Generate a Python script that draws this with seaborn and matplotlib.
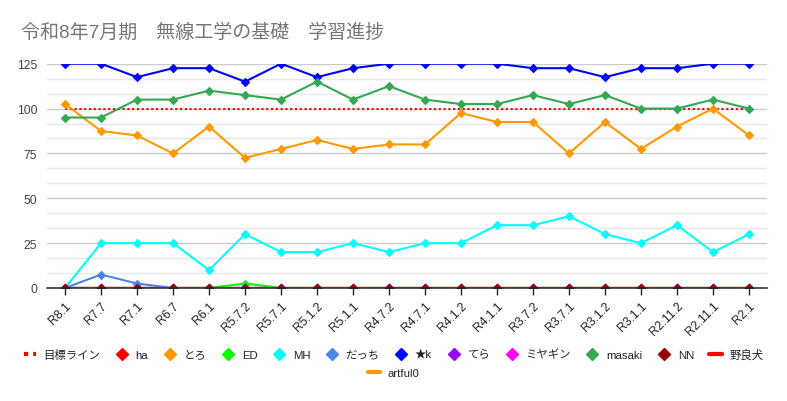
import numpy as np
import pandas as pd
import matplotlib
matplotlib.use("Agg")
import matplotlib.pyplot as plt
import seaborn as sns
from matplotlib.lines import Line2D
from matplotlib.ticker import MultipleLocator

# ---------------- data ----------------
categories = ["R8.1", "R7.7", "R7.1", "R6.7", "R6.1", "R5.7.2", "R5.7.1", "R5.1.2",
              "R5.1.1", "R4.7.2", "R4.7.1", "R4.1.2", "R4.1.1", "R3.7.2", "R3.7.1",
              "R3.1.2", "R3.1.1", "R2.11.2", "R2.11.1", "R2.1"]

target_line = [100, 100, 100, 100, 100, 100, 100, 100, 100, 100,
               100, 100, 100, 100, 100, 100, 100, 100, 100, 100]
ha = [0, 0, 0, 0, 0, 0, 0, 0, 0, 0, 0, 0, 0, 0, 0, 0, 0, 0, 0, 0]
toro = [102.5, 87.5, 85, 75, 90, 72.5, 77.5, 82.5, 77.5, 80,
        80, 97.5, 92.5, 92.5, 75, 92.5, 77.5, 90, 100, 85]
ed = [0, 0, 0, 0, 0, 2.5, 0, 0, 0, 0, 0, 0, 0, 0, 0, 0, 0, 0, 0, 0]
mh = [0, 25, 25, 25, 10, 30, 20, 20, 25, 20,
      25, 25, 35, 35, 40, 30, 25, 35, 20, 30]
datchi = [0, 7.5, 2.5, 0, 0, 0, 0, 0, 0, 0, 0, 0, 0, 0, 0, 0, 0, 0, 0, 0]
star_k = [125, 125, 117.5, 122.5, 122.5, 115, 125, 117.5, 122.5, 125,
          125, 125, 125, 122.5, 122.5, 117.5, 122.5, 122.5, 125, 125]
tera = [0, 0, 0, 0, 0, 0, 0, 0, 0, 0, 0, 0, 0, 0, 0, 0, 0, 0, 0, 0]
miyagin = [0, 0, 0, 0, 0, 0, 0, 0, 0, 0, 0, 0, 0, 0, 0, 0, 0, 0, 0, 0]
masaki = [95, 95, 105, 105, 110, 107.5, 105, 115, 105, 112.5,
          105, 102.5, 102.5, 107.5, 102.5, 107.5, 100, 100, 105, 100]
nn = [0, 0, 0, 0, 0, 0, 0, 0, 0, 0, 0, 0, 0, 0, 0, 0, 0, 0, 0, 0]
norainu = [0, 0, 0, 0, 0, 0, 0, 0, 0, 0, 0, 0, 0, 0, 0, 0, 0, 0, 0, 0]
artful0 = [0, 0, 0, 0, 0, 0, 0, 0, 0, 0, 0, 0, 0, 0, 0, 0, 0, 0, 0, 0]

title = "令和8年7月期　無線工学の基礎　学習進捗"
y_ticks = [0, 25, 50, 75, 100, 125]

# (name, values, color, kind)
series = [
    ("目標ライン", target_line, "#ff0000", "dotted"),
    ("ha", ha, "#ff0000", "marker"),
    ("とろ", toro, "#ff9900", "marker"),
    ("ED", ed, "#00ff00", "marker"),
    ("MH", mh, "#00ffff", "marker"),
    ("だっち", datchi, "#4a86e8", "marker"),
    ("★k", star_k, "#0000ff", "marker"),
    ("てら", tera, "#9900ff", "marker"),
    ("ミヤギン", miyagin, "#ff00ff", "marker"),
    ("masaki", masaki, "#34a853", "marker"),
    ("NN", nn, "#980000", "marker"),
    ("野良犬", norainu, "#ff0000", "line"),
    ("artful0", artful0, "#ff9900", "line"),
]

# ---------------- style ----------------
sns.set_theme(style="white")
plt.rcParams["font.family"] = ["Liberation Sans", "Noto Sans CJK JP", "DejaVu Sans"]

fig = plt.figure(figsize=(7.87, 4.02), dpi=100)
ax = fig.add_axes([47 / 787, 1 - 289 / 402, 720 / 787, (289 - 64.7) / 402])

xpos = np.arange(len(categories))

for i, (name, vals, color, kind) in enumerate(series):
    df = pd.DataFrame({"x": xpos, "y": vals})
    if kind == "dotted":
        sns.lineplot(data=df, x="x", y="y", ax=ax, color=color, lw=1.5,
                     linestyle=(0, (1, 1.3)), zorder=2, legend=False)
    else:
        sns.lineplot(data=df, x="x", y="y", ax=ax, color=color, lw=1.5,
                     zorder=2 + i * 0.01, legend=False)
    if kind == "marker":
        sns.scatterplot(data=df, x="x", y="y", ax=ax, color=color, marker="D",
                        s=24, linewidth=0, zorder=3 + i * 0.01, legend=False)

ax.set_xlim(-0.5, len(categories) - 0.5)
ax.set_ylim(0, 125)
ax.set_xticks(xpos)
ax.set_xticklabels(categories, rotation=45, ha="right", rotation_mode="anchor",
                   fontsize=8.8, color="#222222")
ax.set_yticks(y_ticks)
ax.set_yticklabels([str(t) for t in y_ticks], fontsize=8.8, color="#444444")
ax.yaxis.set_minor_locator(MultipleLocator(25 / 3))
ax.grid(True, axis="y", which="major", color="#cccccc", lw=1.0, zorder=0)
ax.grid(True, axis="y", which="minor", color="#e8e8e8", lw=1.0, zorder=0)
ax.grid(False, axis="x")
ax.set_axisbelow(True)
ax.set_xlabel("")
ax.set_ylabel("")
for sp in ["top", "right", "left"]:
    ax.spines[sp].set_visible(False)
ax.spines["bottom"].set_color("#222222")
ax.spines["bottom"].set_linewidth(1.1)
ax.spines["bottom"].set_zorder(4)
ax.tick_params(axis="x", which="major", bottom=True, length=5, width=1.0,
               color="#222222", pad=3)
ax.tick_params(axis="y", which="both", left=False, length=0, pad=7)

fig.text(21 / 787, 1 - 33 / 402, title, fontsize=13.7, color="#757575",
         va="center", ha="left")

# ---------------- legend ----------------
handles1 = []
labels1 = []
handles2 = []
labels2 = []
for name, vals, color, kind in series:
    if kind == "dotted":
        h = Line2D([], [], color=color, lw=3.0, linestyle=(0, (1, 1.2)))
    elif kind == "marker":
        h = Line2D([], [], color=color, marker="D", linestyle="None", markersize=6.2)
    else:
        h = Line2D([], [], color=color, lw=3.0)
    if name == "artful0":
        handles2.append(h)
        labels2.append(name)
    else:
        handles1.append(h)
        labels1.append(name)

leg1 = fig.legend(handles1, labels1, loc="center", bbox_to_anchor=(0.5, 1 - 355 / 402),
                  ncol=len(handles1), frameon=False, fontsize=8.2, handlelength=1.1,
                  handletextpad=0.65, columnspacing=1.35, labelcolor="#222222")
leg2 = fig.legend(handles2, labels2, loc="center", bbox_to_anchor=(0.5, 1 - 374 / 402),
                  ncol=1, frameon=False, fontsize=8.2, handlelength=1.1,
                  handletextpad=0.65, labelcolor="#222222")

fig.savefig("out.png", dpi=100, facecolor="white")
